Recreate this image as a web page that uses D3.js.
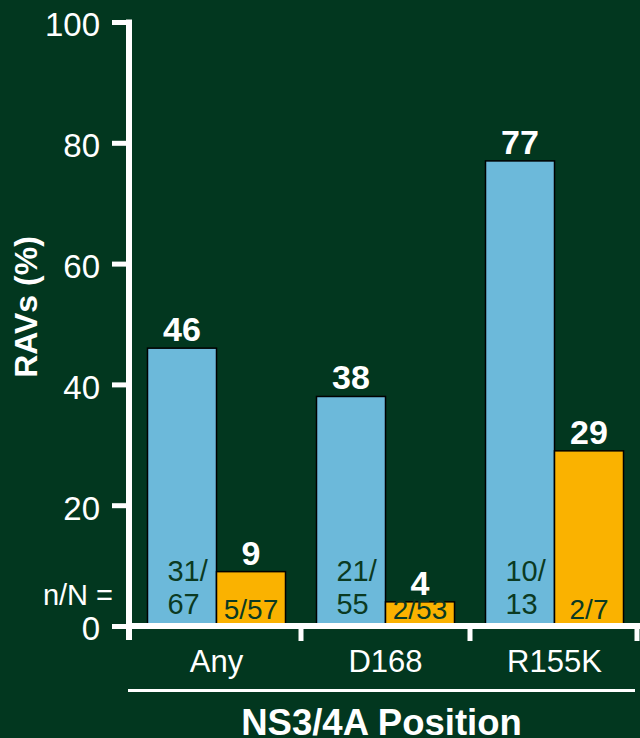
<!DOCTYPE html>
<html>
<head>
<meta charset="utf-8">
<script src="https://cdn.jsdelivr.net/npm/d3@7"></script>
<style>
  html, body { margin: 0; padding: 0; background: #02371f; }
  svg { display: block; }
  text { font-family: "Liberation Sans", Arial, sans-serif; }
</style>
</head>
<body>
<svg id="chart" width="640" height="738"></svg>
<script>
// Resistance-associated variants by NS3/4A position
const categories = ["Any", "D168", "R155K"];
const seriesKeys = ["blue", "orange"];
const valuesBlue = [46, 38, 77];
const valuesOrange = [9, 4, 29];
const countsBlue = [["31/", "67"], ["21/", "55"], ["10/", "13"]];
const countsOrange = ["5/57", "2/53", "2/7"];
const yTicks = [0, 20, 40, 60, 80, 100];

const BG = "#02371f";
const WHITE = "#ffffff";
const INK = "#0b3a22";
const colors = { blue: "#6cb9da", orange: "#fab200" };

const svg = d3.select("#chart");
svg.append("rect").attr("width", 640).attr("height", 738).attr("fill", BG);

const x = d3.scaleBand().domain(categories).range([132, 639]).paddingInner(0).paddingOuter(0);
const sub = d3.scaleBand().domain(seriesKeys).range([0, x.bandwidth()])
  .paddingInner(0).paddingOuter(0.2246);
const y = d3.scaleLinear().domain([0, 100]).range([626, 22]);

const rows = categories.map((c, i) => ({
  cat: c,
  blue: valuesBlue[i],
  orange: valuesOrange[i],
  cBlue: countsBlue[i],
  cOrange: countsOrange[i]
}));

// Bars
const groups = svg.append("g").selectAll("g").data(rows).join("g")
  .attr("transform", d => `translate(${x(d.cat)},0)`);

groups.selectAll("rect").data(d => seriesKeys.map(k => ({ key: k, value: d[k] })))
  .join("rect")
  .attr("x", d => sub(d.key))
  .attr("width", sub.bandwidth())
  .attr("y", d => y(d.value))
  .attr("height", d => y(0) - y(d.value))
  .attr("fill", d => colors[d.key])
  .attr("stroke", "#000")
  .attr("stroke-width", 1.5);

// Value labels above bars
groups.selectAll("text.val").data(d => seriesKeys.map(k => ({ key: k, value: d[k] })))
  .join("text")
  .attr("class", "val")
  .attr("x", d => sub(d.key) + sub.bandwidth() / 2)
  .attr("y", d => y(d.value) - 7)
  .attr("text-anchor", "middle")
  .attr("font-size", 34)
  .attr("font-weight", "bold")
  .attr("fill", WHITE)
  .text(d => d.value);

// n/N counts inside bars
groups.append("text")
  .attr("font-size", 29)
  .attr("fill", INK)
  .selectAll("tspan").data(d => d.cBlue).join("tspan")
  .attr("x", sub("blue") + 20)
  .attr("y", (d, i) => 581 + i * 33)
  .text(d => d);

groups.append("text")
  .attr("x", sub("orange") + sub.bandwidth() / 2)
  .attr("y", 619)
  .attr("text-anchor", "middle")
  .attr("font-size", 28)
  .attr("fill", INK)
  .text(d => d.cOrange);

svg.append("text")
  .attr("x", 113).attr("y", 605)
  .attr("text-anchor", "end")
  .attr("font-size", 29)
  .attr("fill", WHITE)
  .text("n/N =");

// Y axis
const yAxis = svg.append("g")
  .attr("transform", `translate(129,0)`)
  .call(d3.axisLeft(y).tickValues(yTicks).tickSize(17).tickSizeOuter(0).tickPadding(12));
yAxis.select(".domain").remove();
yAxis.selectAll(".tick line").attr("stroke", WHITE).attr("stroke-width", 5);
yAxis.selectAll(".tick text")
  .attr("fill", WHITE)
  .attr("font-size", 33)
  .attr("font-family", "'Liberation Sans', Arial, sans-serif")
  .attr("dy", "0.42em");
yAxis.append("line")
  .attr("x1", 0).attr("x2", 0)
  .attr("y1", y(100) - 2.5).attr("y2", y(0) + 14)
  .attr("stroke", WHITE).attr("stroke-width", 6);

// X axis
const xAxis = svg.append("g")
  .attr("transform", `translate(0,${y(0)})`)
  .call(d3.axisBottom(x).tickSize(0).tickPadding(24).tickSizeOuter(0));
xAxis.select(".domain").remove();
xAxis.selectAll(".tick text")
  .attr("fill", WHITE)
  .attr("font-size", 31)
  .attr("font-family", "'Liberation Sans', Arial, sans-serif");
xAxis.append("line")
  .attr("x1", 126).attr("x2", 640)
  .attr("y1", 0).attr("y2", 0)
  .attr("stroke", WHITE).attr("stroke-width", 6);
xAxis.selectAll("line.bound").data(categories).join("line")
  .attr("class", "bound")
  .attr("x1", d => Math.min(x(d) + x.bandwidth(), 637))
  .attr("x2", d => Math.min(x(d) + x.bandwidth(), 637))
  .attr("y1", 0).attr("y2", 15)
  .attr("stroke", WHITE).attr("stroke-width", 5);

// Axis titles
svg.append("line")
  .attr("x1", 128).attr("x2", 635)
  .attr("y1", 690.5).attr("y2", 690.5)
  .attr("stroke", WHITE).attr("stroke-width", 3);

svg.append("text")
  .attr("x", (128 + 635) / 2).attr("y", 735)
  .attr("text-anchor", "middle")
  .attr("font-size", 36.5)
  .attr("font-weight", "bold")
  .attr("fill", WHITE)
  .text("NS3/4A Position");

svg.append("text")
  .attr("transform", "translate(37,307) rotate(-90)")
  .attr("text-anchor", "middle")
  .attr("font-size", 32)
  .attr("font-weight", "bold")
  .attr("fill", WHITE)
  .text("RAVs (%)");
</script>
</body>
</html>
